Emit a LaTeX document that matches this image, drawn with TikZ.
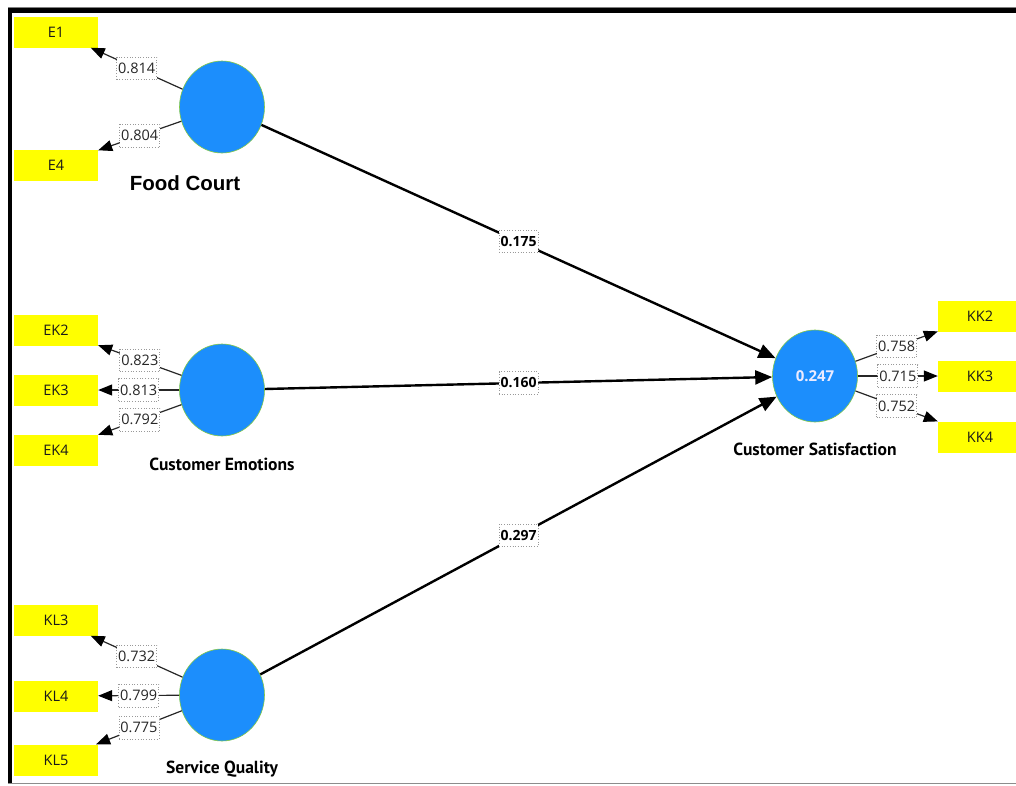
\documentclass[tikz,border=0pt]{standalone}
\usepackage{fontspec}
\setmainfont{Open Sans}
\newfontfamily\lblfont{PT Sans}
\newfontfamily\fcfont{Liberation Sans}
\usetikzlibrary{shapes.geometric,arrows.meta}
\definecolor{lvblue}{RGB}{28,142,252}
\definecolor{lvedge}{RGB}{130,200,70}
\definecolor{indyellow}{RGB}{255,255,0}
\tikzset{
  ind/.style={rectangle, fill=indyellow, minimum width=84pt, minimum height=31pt, inner sep=0pt, font=\fontsize{14.5}{16}\selectfont, text=black!90},
  lv/.style={ellipse, fill=lvblue, draw=lvedge, line width=0.6pt, minimum width=85pt, minimum height=92pt, inner sep=0pt},
  ld/.style={draw=black!85, line width=1.2pt, -{Triangle[length=14pt,width=11pt,color=black]}},
  pth/.style={draw=black, line width=2.4pt, -{Triangle[length=17pt,width=14pt]}},
  wlab/.style={fill=white, draw=black!40, dotted, line width=0.7pt, inner xsep=1.5pt, inner ysep=6pt, font=\fontsize{14.5}{16}\selectfont, text=black!85},
  plab/.style={wlab, font=\bfseries\fontsize{14}{16}\selectfont, text=black},
  lvname/.style={font=\lblfont\bfseries\fontsize{17.5}{19}\selectfont}
}
\begin{document}
\begin{tikzpicture}[x=1pt,y=-1pt]
\useasboundingbox (0,0) rectangle (1016,785);
\fill[white] (0,0) rectangle (1016,785);
% frame
\draw[black!50, line width=1pt] (8,7) -- (1016,7);
\draw[black, line width=5pt] (8,10) -- (1016,10);
\draw[black, line width=4pt] (10,8) -- (10,783);
\draw[black!45, line width=1.5pt] (8,783.5) -- (1016,783.5);

% indicators
\node[ind] (e1) at (56,32) {E1};
\node[ind] (e4) at (56,165) {E4};
\node[ind] (ek2) at (56,330) {EK2};
\node[ind] (ek3) at (56,390) {EK3};
\node[ind] (ek4) at (56,450) {EK4};
\node[ind] (kl3) at (56,620) {KL3};
\node[ind] (kl4) at (56,696) {KL4};
\node[ind] (kl5) at (56,760) {KL5};
\node[ind] (kk2) at (980,316) {KK2};
\node[ind] (kk3) at (980,376) {KK3};
\node[ind] (kk4) at (980,437) {KK4};

% latent variables
\node[lv] (fc) at (222,107) {};
\node[lv] (ce) at (222,390) {};
\node[lv] (sq) at (222,695) {};
\node[lv, text=blue!8, font=\bfseries\fontsize{15}{17}\selectfont] (cs) at (815,376) {0.247};

\node[font=\fcfont\bfseries\fontsize{20.5}{23}\selectfont] (fcn) at (185,183) {Food Court};
\node[lvname] (cen) at (222,464) {Customer Emotions};
\node[lvname] (sqn) at (222,769) {Service Quality};
\node[lvname] (csn) at (815,449) {Customer Satisfaction};

% outer loadings
\draw[ld] (fc) -- node[wlab]{0.814} (e1);
\draw[ld] (fc) -- node[wlab]{0.804} (e4);
\draw[ld] (ce) -- node[wlab]{0.823} (ek2);
\draw[ld] (ce) -- node[wlab]{0.813} (ek3);
\draw[ld] (ce) -- node[wlab]{0.792} (ek4);
\draw[ld] (sq) -- node[wlab]{0.732} (kl3);
\draw[ld] (sq) -- node[wlab]{0.799} (kl4);
\draw[ld] (sq) -- node[wlab]{0.775} (kl5);
\draw[ld] (cs) -- node[wlab]{0.758} (kk2);
\draw[ld] (cs) -- node[wlab]{0.715} (kk3);
\draw[ld] (cs) -- node[wlab]{0.752} (kk4);

% path coefficients
\draw[pth] (fc) -- node[plab]{0.175} (cs);
\draw[pth] (ce) -- node[plab]{0.160} (cs);
\draw[pth] (sq) -- node[plab]{0.297} (cs);
\end{tikzpicture}
\end{document}
